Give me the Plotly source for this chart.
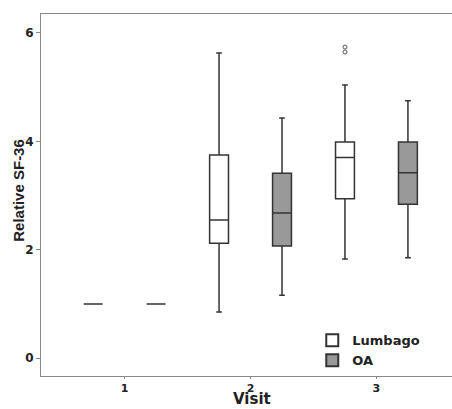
import plotly.graph_objects as go

visits = [1, 2, 3]
groups = ["Lumbago", "OA"]

# Box statistics
lumbago_lf = [1.0, 0.85, 1.83]
lumbago_q1 = [1.0, 2.12, 2.94]
lumbago_med = [1.0, 2.55, 3.70]
lumbago_q3 = [1.0, 3.75, 3.99]
lumbago_uf = [1.0, 5.63, 5.04]

oa_lf = [1.0, 1.16, 1.85]
oa_q1 = [1.0, 2.07, 2.84]
oa_med = [1.0, 2.68, 3.42]
oa_q3 = [1.0, 3.41, 3.99]
oa_uf = [1.0, 4.43, 4.75]

# Outliers (Lumbago, visit 3)
out_visit = [3, 3, 3]
out_vals = [5.65, 5.74, 6.40]

x_title = "Visit"
y_title = "Relative SF-36"

offset = 0.25
bw = 0.15
fills = ["#ffffff", "#999999"]
edge = "#333333"

fig = go.Figure()
stats = [
    (lumbago_lf, lumbago_q1, lumbago_med, lumbago_q3, lumbago_uf),
    (oa_lf, oa_q1, oa_med, oa_q3, oa_uf),
]
for gi, (name, st) in enumerate(zip(groups, stats)):
    sgn = -1 if gi == 0 else 1
    lf, q1, med, q3, uf = st
    fig.add_trace(go.Box(
        name=name,
        x=[v + sgn * offset for v in visits],
        lowerfence=lf, q1=q1, median=med, q3=q3, upperfence=uf,
        width=bw,
        whiskerwidth=0.3,
        fillcolor=fills[gi],
        line=dict(color=edge, width=1.5),
        boxpoints=False,
        showlegend=True,
    ))

fig.add_trace(go.Scatter(
    x=[v - offset for v in out_visit], y=out_vals,
    mode="markers",
    marker=dict(symbol="circle-open", size=4, color="#555555", line=dict(width=1)),
    showlegend=False, hoverinfo="skip",
))

fig.update_layout(
    width=452, height=409,
    margin=dict(l=41, r=0, t=14, b=33),
    plot_bgcolor="white", paper_bgcolor="white",
    font=dict(family="DejaVu Sans", color="#222222"),
    legend=dict(
        x=0.66, y=0.14, xanchor="left", yanchor="top",
        bgcolor="rgba(0,0,0,0)",
        font=dict(size=13, weight="bold", family="DejaVu Sans"),
        tracegroupgap=0, itemsizing="constant",
    ),
    xaxis=dict(
        range=[0.336, 3.6],
        tickmode="array", tickvals=visits, ticktext=[str(v) for v in visits],
        tickfont=dict(size=11, weight="bold"),
        ticks="outside", ticklen=2, tickcolor="#888888",
        showline=True, linecolor="#888888", linewidth=1, mirror=True,
        showgrid=False, zeroline=False, automargin=False,
    ),
    yaxis=dict(
        range=[-0.33, 6.35],
        tickvals=[0, 2, 4, 6],
        tickfont=dict(size=12, weight="bold"),
        ticks="outside", ticklen=4, tickcolor="#888888",
        showline=True, linecolor="#888888", linewidth=1,
        showgrid=False, zeroline=False, automargin=False,
    ),
    annotations=[
        dict(text=x_title, xref="paper", yref="paper", x=0.513, y=-0.0912,
             xanchor="center", yanchor="bottom", showarrow=False, borderpad=0,
             font=dict(size=15, weight="bold", family="DejaVu Sans", color="#222222")),
        dict(text=y_title, xref="paper", yref="paper", x=-0.054, y=0.514,
             xanchor="center", yanchor="middle", showarrow=False, textangle=-90,
             font=dict(size=15, weight="bold", family="Liberation Sans", color="#222222")),
    ],
)

fig.write_html(
    "out.html",
    config={"displayModeBar": False},
    post_script="document.body.style.margin='0';document.body.style.overflow='hidden';",
)
